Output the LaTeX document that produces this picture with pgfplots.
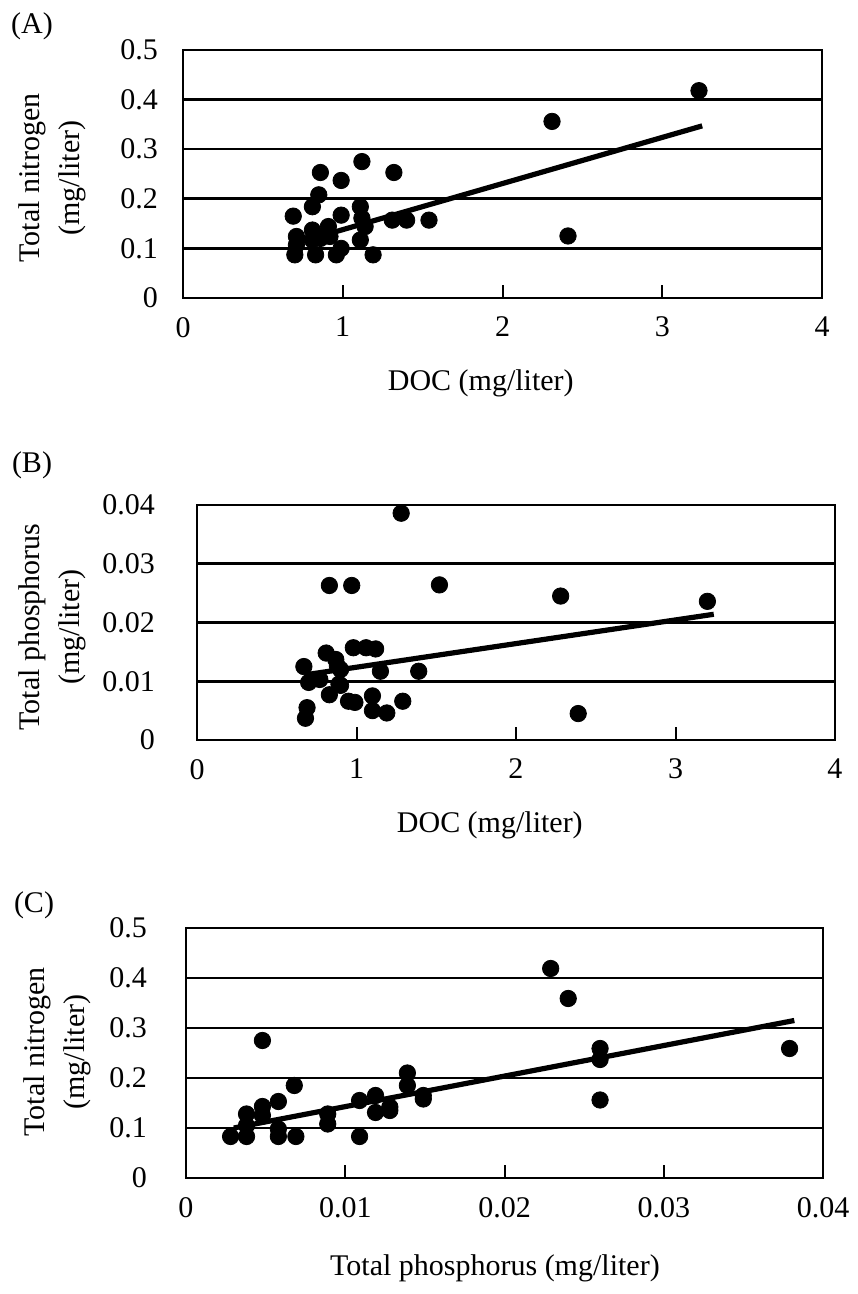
\documentclass[border=0pt]{standalone}
\usepackage{pgfplots}
\pgfplotsset{compat=1.18}
\usepackage{fontspec}
\setmainfont{Liberation Serif}
\newcommand{\lblfont}{\fontsize{15}{20}\selectfont}
\pgfplotsset{
  panel/.style={
    scale only axis,
    anchor=south west,
    axis line style={line width=1.4pt},
    ymajorgrids,
    major grid style={line width=1.3pt, black},
    ytick style={draw=none},
    xtick pos=bottom,
    tick align=inside,
    major tick length=6.5pt,
    xtick style={line width=1pt, black},
    tick label style={font=\lblfont},
    label style={font=\lblfont},
    /pgf/number format/assume math mode=true,
    scaled x ticks=false, scaled y ticks=false,
    xticklabel style={yshift=-6pt},
    yticklabel style={xshift=-9pt},
    clip=false,
  },
  dots/.style={only marks, mark=*, mark size=4.1pt, black},
  fit/.style={no marks, line width=2.6pt, black},
}
\begin{document}
\begin{tikzpicture}
\useasboundingbox (0,0) rectangle (428.5pt,647pt);
% ---------- (A)
\begin{axis}[panel, at={(91.5pt,498pt)}, width=319.5pt, height=124pt,
  xmin=0, xmax=4, ymin=0, ymax=0.5,
  xtick={0,1,2,3,4}, xticklabels={0,1,2,3,4},
  ytick={0,0.1,0.2,0.3,0.4,0.5}, yticklabels={0,0.1,0.2,0.3,0.4,0.5},
  xlabel={DOC (mg/liter)},
  xlabel style={at={(axis description cs:0.466,-0.343)}, anchor=center},
  ylabel={Total nitrogen\\(mg/liter)},
  ylabel style={at={(axis description cs:-0.205,0.484)}, anchor=center, align=center},
]
\addplot[dots] coordinates {
(0.69,0.165) (0.71,0.124) (0.71,0.107) (0.70,0.087) (0.81,0.184)
(0.85,0.208) (0.86,0.253) (0.81,0.137) (0.81,0.117) (0.83,0.087)
(0.86,0.120) (0.91,0.144) (0.92,0.124) (0.96,0.087) (0.99,0.100)
(0.99,0.167) (0.99,0.237) (1.11,0.184) (1.12,0.275) (1.12,0.161)
(1.14,0.144) (1.11,0.117) (1.19,0.087) (1.32,0.253) (1.31,0.157)
(1.40,0.157) (1.54,0.157) (2.31,0.356) (2.41,0.125) (3.23,0.418)
};
\addplot[fit] coordinates {(0.68,0.108) (3.25,0.347)};
\end{axis}
% ---------- (B)
\begin{axis}[panel, at={(98.5pt,277pt)}, width=319pt, height=117.5pt,
  xmin=0, xmax=4, ymin=0, ymax=0.04,
  xtick={0,1,2,3,4}, xticklabels={0,1,2,3,4},
  ytick={0,0.01,0.02,0.03,0.04}, yticklabels={0,0.01,0.02,0.03,0.04},
  yticklabel style={xshift=-8.5pt},
  xlabel={DOC (mg/liter)},
  xlabel style={at={(axis description cs:0.459,-0.362)}, anchor=center},
  ylabel={Total phosphorus\\(mg/liter)},
  ylabel style={at={(axis description cs:-0.227,0.481)}, anchor=center, align=center},
]
\addplot[dots] coordinates {
(0.83,0.0263) (0.97,0.0263) (1.28,0.0386) (1.52,0.0264) (2.28,0.0245)
(3.20,0.0236) (2.39,0.0045) (0.98,0.0157) (1.06,0.0157) (1.12,0.0155)
(0.81,0.0148) (0.87,0.0137) (0.67,0.0125) (0.88,0.0126) (0.90,0.0120)
(1.15,0.0117) (1.39,0.0117) (0.70,0.0098) (0.77,0.0103) (0.90,0.0093)
(0.89,0.0095) (0.83,0.0077) (0.95,0.0066) (0.99,0.0064) (1.10,0.0075)
(1.29,0.0066) (0.69,0.0055) (0.68,0.0037) (1.10,0.0050) (1.19,0.0046)
};
\addplot[fit] coordinates {(0.68,0.0111) (3.24,0.0214)};
\end{axis}
% ---------- (C)
\begin{axis}[panel, at={(93pt,58pt)}, width=318.5pt, height=125pt,
  xmin=0, xmax=0.04, ymin=0, ymax=0.5,
  xtick={0,0.01,0.02,0.03,0.04}, xticklabels={0,0.01,0.02,0.03,0.04},
  ytick={0,0.1,0.2,0.3,0.4,0.5}, yticklabels={0,0.1,0.2,0.3,0.4,0.5},
  yticklabel style={xshift=-7pt},
  xlabel={Total phosphorus (mg/liter)},
  xlabel style={at={(axis description cs:0.485,-0.36)}, anchor=center},
  ylabel={Total nitrogen\\(mg/liter)},
  ylabel style={at={(axis description cs:-0.2025,0.504)}, anchor=center, align=center},
]
\addplot[dots] coordinates {
(0.0048,0.275) (0.0068,0.185) (0.0058,0.153) (0.0048,0.143) (0.0038,0.128)
(0.0038,0.105) (0.0028,0.083) (0.0038,0.083) (0.0048,0.125) (0.0058,0.083)
(0.0069,0.083) (0.0058,0.098) (0.0089,0.128) (0.0089,0.108) (0.0109,0.155)
(0.0109,0.083) (0.0119,0.165) (0.0119,0.131) (0.0128,0.135) (0.0128,0.142)
(0.0139,0.210) (0.0139,0.185) (0.0149,0.158) (0.0149,0.165) (0.0229,0.419)
(0.0240,0.359) (0.0260,0.259) (0.0260,0.237) (0.0260,0.156) (0.0379,0.259)
};
\addplot[fit] coordinates {(0.003,0.100) (0.0382,0.315)};
\end{axis}
\node[font=\lblfont] at (16pt,634pt) {(A)};
\node[font=\lblfont] at (16pt,414.5pt) {(B)};
\node[font=\lblfont] at (17pt,194.5pt) {(C)};
\end{tikzpicture}
\end{document}
